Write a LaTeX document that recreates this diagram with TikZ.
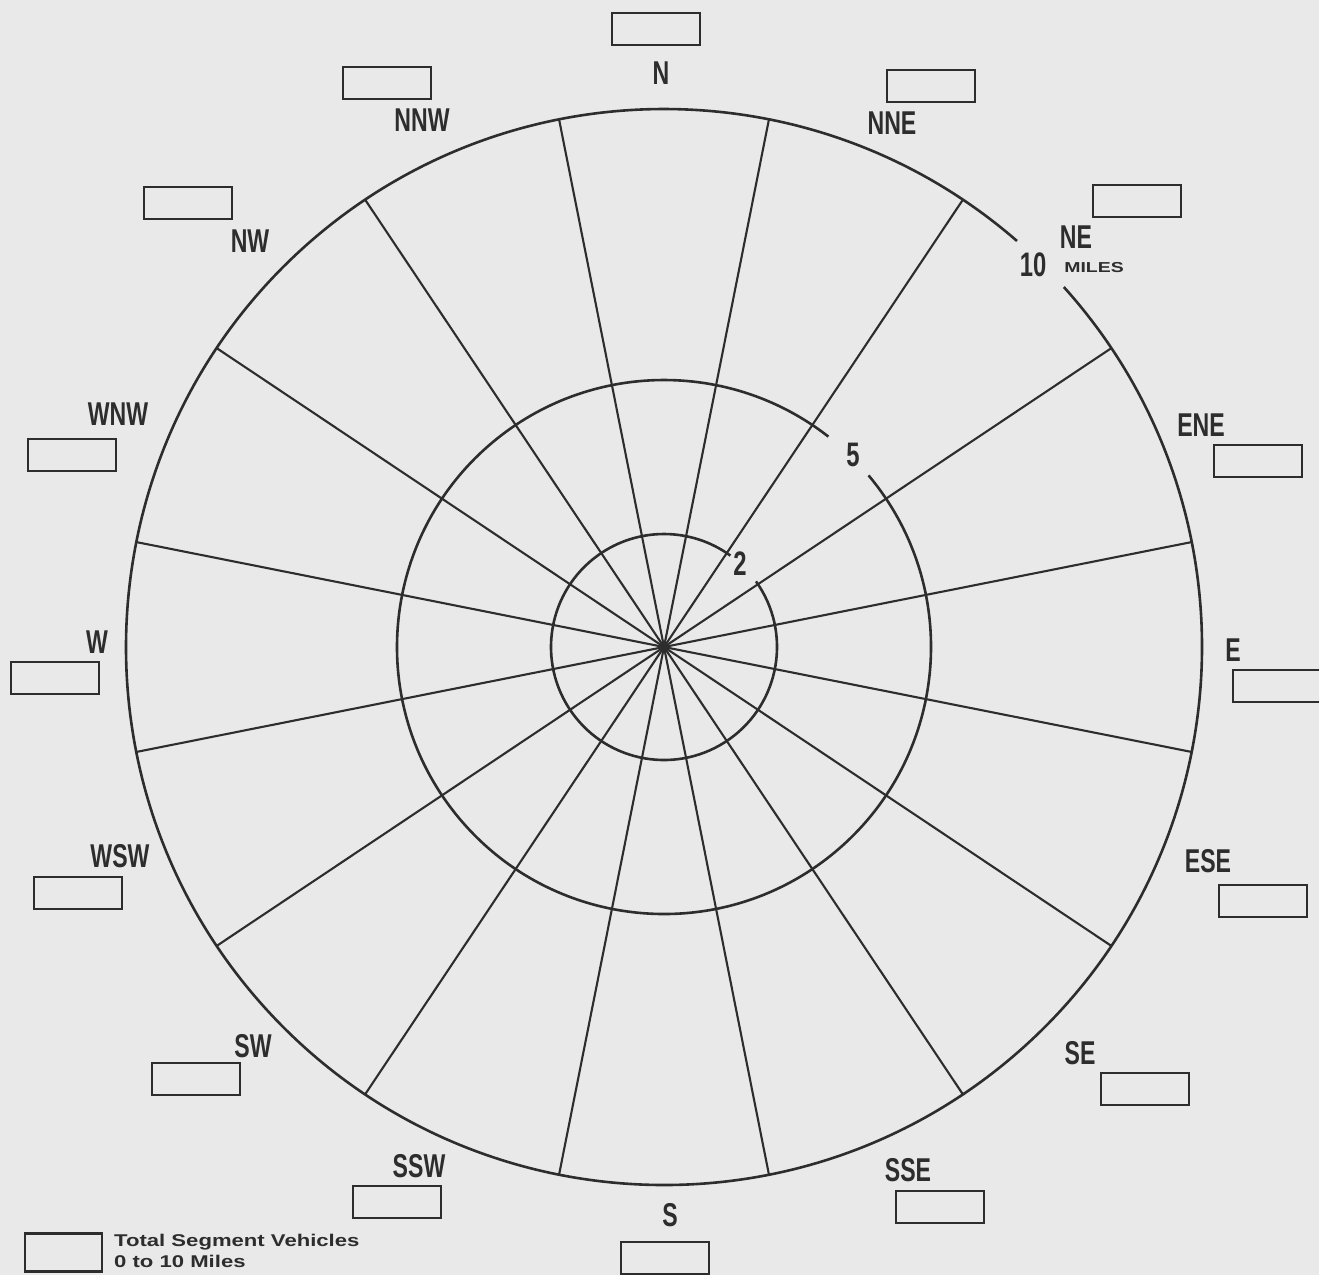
\documentclass[tikz,border=0pt]{standalone}
\usepackage{fontspec}
\usepackage{graphicx}
\newfontfamily\lab[FakeStretch=0.7]{Liberation Sans}
\newfontfamily\legfont{Liberation Sans}
\definecolor{bg}{RGB}{233,233,233}
\definecolor{ink}{RGB}{45,45,45}
\tikzset{
  ring/.style={draw=ink, line width=2.6pt},
  spoke/.style={draw=ink, line width=2.1pt},
  segbox/.style={draw=ink, line width=2.6pt, minimum width=88pt, minimum height=32pt, inner sep=0pt},
  dirlab/.style={text=ink, inner sep=0pt, font=\lab\bfseries\fontsize{33}{33}\selectfont},
  numlab/.style={text=ink, inner sep=0pt, font=\lab\bfseries\fontsize{34}{34}\selectfont},
  leglab/.style={text=ink, inner sep=0pt, align=left, font=\legfont\bfseries\fontsize{17}{21}\selectfont}
}
\begin{document}
\begin{tikzpicture}[x=1pt,y=-1pt]
\fill[bg] (0,0) rectangle (1319,1275);
\useasboundingbox (0,0) rectangle (1319,1275);
\coordinate (c) at (664,647);
% rings (10, 5 and 2 miles) with gaps for their labels
\draw[ring] (c) ++(-42:538) arc[start angle=-42, end angle=311, radius=538];
\draw[ring] (c) ++(-40:267) arc[start angle=-40, end angle=308, radius=267];
\draw[ring] (c) ++(-35.5:113) arc[start angle=-35.5, end angle=306, radius=113];
% spokes
\foreach \k in {0,...,15} {
  \path (c) ++({11.25+22.5*\k}:538) coordinate (sp\k);
  \draw[spoke] (c) -- (sp\k);
}
% ring labels
\node[numlab] (l5) at (853,455) {5};
\node[numlab] (l2) at (740,564) {2};
\node[numlab] (l10) at (1033,265) {10};
\node[text=ink, inner sep=0pt, font=\legfont\bfseries\fontsize{18}{18}\selectfont] (miles) at (1094,268) {\scalebox{1.08}[0.8]{MILES}};
% segment boxes and direction labels
\foreach \n/\bx/\by/\lx/\ly in {
  N/656/29/661/73, NNE/931/86/892/123, NE/1137/201/1076/237, ENE/1258/461/1201/425,
  E/1277/686/1233/650, ESE/1263/901/1208/861, SE/1145/1089/1080/1053, SSE/940/1207/908/1170,
  S/665/1258/670/1215, SSW/397/1202/419/1166, SW/196/1079/253/1046, WSW/78/893/120/856,
  W/55/678/97/642, WNW/72/455/118/414, NW/188/203/250/241, NNW/387/83/422/120} {
  \node[segbox] (box\n) at (\bx,\by) {};
  \node[dirlab] (lab\n) at (\lx,\ly) {\n};
}
% legend
\node[segbox, minimum width=77pt, minimum height=38pt] (legbox) at (63.5,1252.5) {};
\node[leglab, anchor=north west] (legtext) at (114,1234) {\scalebox{1.3}[1]{Total Segment Vehicles}\\\scalebox{1.3}[1]{0 to 10 Miles}};
\end{tikzpicture}
\end{document}
